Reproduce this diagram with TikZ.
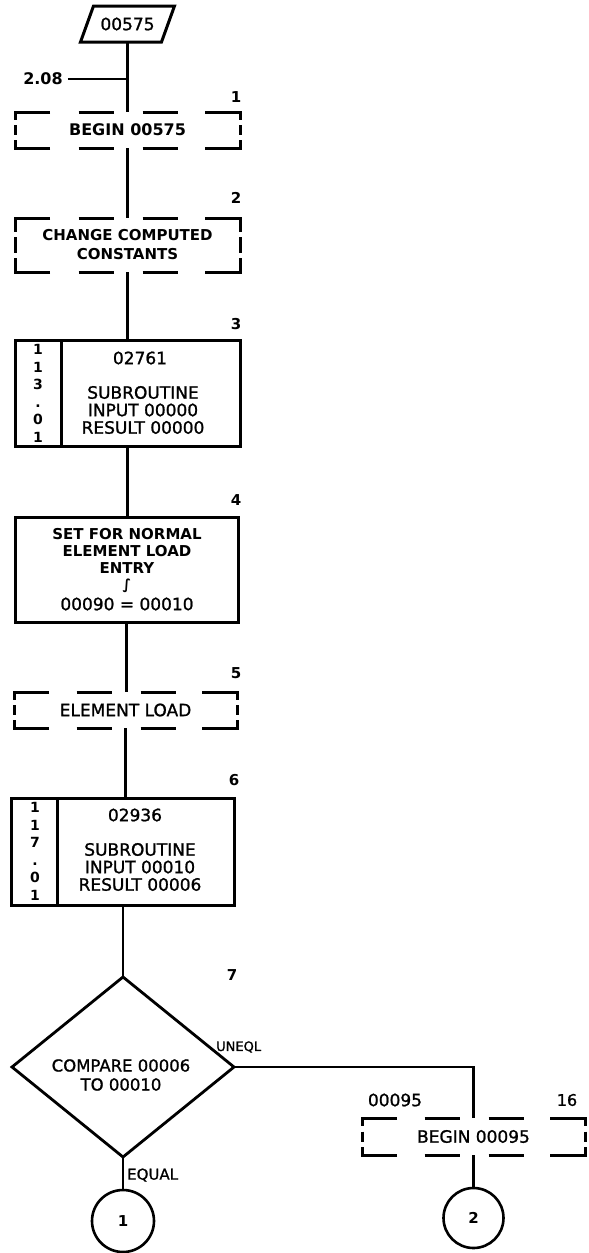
\documentclass[tikz,border=0pt]{standalone}
\usepackage{fontspec}
\setmainfont{DejaVu Sans}
\newfontfamily\pen{DejaVu Sans}[FakeBold=1.2]
\usetikzlibrary{calc,shapes.geometric}
\tikzset{
  txt/.style={font=\pen\fontsize{17}{17.5}\selectfont, inner sep=0pt, align=center},
  btxt/.style={font=\bfseries\fontsize{15}{19}\selectfont, inner sep=0pt, align=center},
  numlab/.style={font=\bfseries\fontsize{15}{17}\selectfont, inner sep=0pt},
  digcol/.style={font=\bfseries\fontsize{14}{17.5}\selectfont, inner sep=0pt, align=center},
  sbox/.style={draw, line width=3pt, inner sep=0pt, outer sep=0pt},
  dnode/.style={inner sep=0pt, outer sep=0pt},
  conn/.style={line width=2.8pt},
  dbline/.style={line width=3pt},
  term/.style={draw, circle, line width=2.6pt, inner sep=0pt, outer sep=0pt, font=\bfseries\fontsize{15}{17}\selectfont}
}
\newcommand\dashedbox[3]{%
  \draw[dbline] ($(#1.north west)+(35,0)$) -- (#1.north west) -- ++(0,#2);
  \draw[dbline] ($(#1.north east)+(-35,0)$) -- (#1.north east) -- ++(0,#2);
  \draw[dbline] ($(#1.south west)+(35,0)$) -- (#1.south west) -- ++(0,-#2);
  \draw[dbline] ($(#1.south east)+(-35,0)$) -- (#1.south east) -- ++(0,-#2);
  \draw[dbline] ($(#1.west)+(0,-#3/2)$) -- ++(0,#3);
  \draw[dbline] ($(#1.east)+(0,-#3/2)$) -- ++(0,#3);
  \draw[dbline] ($(#1.north)+(-49,0)$) -- ++(35,0);
  \draw[dbline] ($(#1.north)+(15,0)$) -- ++(35,0);
  \draw[dbline] ($(#1.south)+(-49,0)$) -- ++(35,0);
  \draw[dbline] ($(#1.south)+(15,0)$) -- ++(35,0);
}
\begin{document}
\begin{tikzpicture}[x=1pt,y=-1pt]
\useasboundingbox (0,0) rectangle (589,1253);

% start parallelogram
\node[dnode, minimum width=81pt, minimum height=36pt, font=\pen\fontsize{17}{18}\selectfont] (p) at (127.5,24) {00575};
\draw[line width=3pt] ($(p.south west)+(-6.5,0)$) -- ($(p.north west)+(6.5,0)$) -- ($(p.north east)+(6.5,0)$) -- ($(p.south east)+(-6.5,0)$) -- cycle;

\node[btxt, font=\bfseries\fontsize{16}{18}\selectfont] (l208) at (43,79) {2.08};
\coordinate (j208) at (127.5,79);

% box 1
\node[dnode, minimum width=225pt, minimum height=36pt] (b1) at (127.5,130) {};
\dashedbox{b1}{8}{10}
\node[btxt, font=\bfseries\fontsize{16}{19}\selectfont] (t1) at (b1) {BEGIN 00575};
\node[numlab] (n1) at (236,97) {1};

% box 2
\node[dnode, minimum width=225pt, minimum height=54pt] (b2) at (127.5,245) {};
\dashedbox{b2}{14}{16}
\node[btxt] (t2) at (b2) {CHANGE COMPUTED\\CONSTANTS};
\node[numlab] (n2) at (236,198) {2};

% box 3
\node[sbox, minimum width=225pt, minimum height=106pt] (b3) at (127.5,393) {};
\draw[line width=3pt] ($(b3.north west)+(46,0)$) -- ($(b3.south west)+(46,0)$);
\node[digcol] (dg3) at (38,393.5) {1\\1\\3\\.\\0\\1};
\node[txt] (t3a) at (140,358) {02761};
\node[txt] (t3b) at (143,410) {SUBROUTINE\\INPUT 00000\\RESULT 00000};
\node[numlab] (n3) at (236,324) {3};

% box 4
\node[sbox, minimum width=223pt, minimum height=105pt] (b4) at (126.5,569.5) {};
\node[btxt, font=\bfseries\fontsize{15}{17}\selectfont] (t4a) at (127,550.5) {SET FOR NORMAL\\ELEMENT LOAD\\ENTRY};
\node[txt, font=\bfseries\fontsize{14}{14}\selectfont] (t4b) at (127,586) {∫};
\node[txt] (t4c) at (127,604) {00090 = 00010};
\node[numlab] (n4) at (236,500) {4};

% box 5
\node[dnode, minimum width=223pt, minimum height=36pt] (b5) at (125.5,710) {};
\dashedbox{b5}{8}{10}
\node[txt] (t5) at (b5) {ELEMENT LOAD};
\node[numlab] (n5) at (236,673) {5};

% box 6
\node[sbox, minimum width=223pt, minimum height=107pt] (b6) at (123,851.5) {};
\draw[line width=3pt] ($(b6.north west)+(46,0)$) -- ($(b6.south west)+(46,0)$);
\node[digcol] (dg6) at (35,851.5) {1\\1\\7\\.\\0\\1};
\node[txt] (t6a) at (135,815) {02936};
\node[txt] (t6b) at (140,867) {SUBROUTINE\\INPUT 00010\\RESULT 00006};
\node[numlab] (n6) at (234,780) {6};

% decision 7
\node[draw, diamond, line width=2.8pt, inner sep=0pt, outer sep=0pt, minimum width=222pt, minimum height=180pt, aspect=1.233] (d) at (123,1067) {};
\node[txt, font=\pen\fontsize{16.5}{19}\selectfont] (td) at (121,1075) {COMPARE 00006\\TO 00010};
\node[numlab] (n7) at (232,975) {7};
\node[txt, font=\pen\fontsize{13}{14}\selectfont, anchor=west] (lun) at (216,1047) {UNEQL};
\node[txt, font=\pen\fontsize{15}{17}\selectfont, anchor=west] (leq) at (127,1175) {EQUAL};

% box 16
\node[dnode, minimum width=223pt, minimum height=37pt] (b16) at (473.5,1136.5) {};
\dashedbox{b16}{8}{10}
\node[txt] (t16) at (b16) {BEGIN 00095};
\node[txt] (l16a) at (395,1100) {00095};
\node[txt, font=\pen\fontsize{16}{17}\selectfont] (n16) at (567,1100) {16};

% terminals
\node[term, minimum size=62pt] (c1) at (123,1221) {1};
\node[term, minimum size=60pt] (c2) at (473.5,1218) {2};

% connectors
\draw[conn] (p.south) -- (b1.north);
\draw[conn, shorten <=5pt] (l208.east) -- (j208);
\draw[conn] (b1.south) -- (b2.north);
\draw[conn] (b2.south) -- (b3.north);
\draw[conn] (b3.south) -- (b3.south |- b4.north);
\draw[conn] (b4.south) -- (b4.south |- b5.north);
\draw[conn] (b5.south) -- (b5.south |- b6.north);
\draw[conn] (b6.south) -- (d.north);
\draw[conn] (d.south) -- (c1.north);
\draw[conn] (d.east) -| (b16.north);
\draw[conn] (b16.south) -- (c2.north);
\end{tikzpicture}
\end{document}
